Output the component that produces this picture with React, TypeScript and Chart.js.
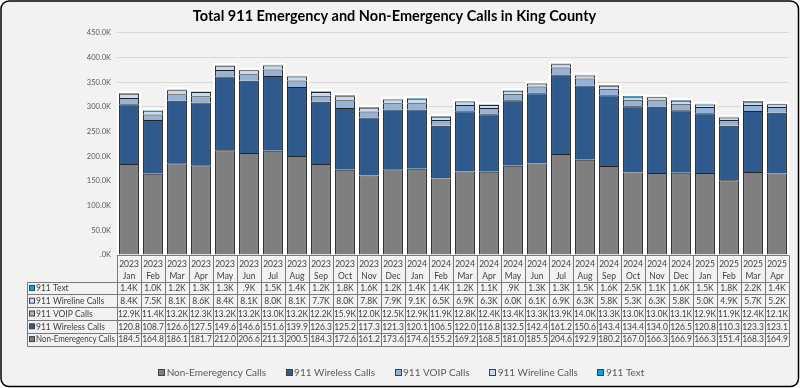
import React, { useEffect, useRef } from 'react';
import { Chart, registerables } from 'chart.js';

Chart.register(...registerables);

const years = ['2023','2023','2023','2023','2023','2023','2023','2023','2023','2023','2023','2023','2024','2024','2024','2024','2024','2024','2024','2024','2024','2024','2024','2024','2025','2025','2025','2025'];
const months = ['Jan','Feb','Mar','Apr','May','Jun','Jul','Aug','Sep','Oct','Nov','Dec','Jan','Feb','Mar','Apr','May','Jun','Jul','Aug','Sep','Oct','Nov','Dec','Jan','Feb','Mar','Apr'];

// values in thousands of calls
const nonEmergency = [184.5,164.8,186.1,181.7,212.0,206.6,211.3,200.5,184.3,172.6,161.2,173.6,174.6,155.2,169.2,168.5,181.0,185.5,204.6,192.9,180.2,167.0,166.3,166.9,166.3,151.4,168.3,164.9];
const wireless = [120.8,108.7,126.6,127.5,149.6,146.6,151.6,139.9,126.3,125.2,117.3,121.3,120.1,106.5,122.0,116.8,132.5,142.4,161.2,150.6,143.4,134.4,134.0,126.5,120.8,110.3,123.3,123.1];
const voip = [12.9,11.4,13.2,12.3,13.2,13.2,13.0,13.2,12.2,15.9,12.0,12.5,12.9,11.9,12.8,12.4,13.4,13.3,13.9,14.0,13.3,13.0,13.0,13.1,12.9,11.9,12.4,12.1];
const wireline = [8.4,7.5,8.1,8.6,8.4,8.1,8.0,8.1,7.7,8.0,7.8,7.9,9.1,6.5,6.9,6.3,6.0,6.1,6.9,6.3,5.8,5.3,6.3,5.8,5.0,4.9,5.7,5.2];
const text911 = [1.4,1.0,1.2,1.3,1.3,0.9,1.5,1.4,1.2,1.8,1.6,1.2,1.4,1.4,1.2,1.1,0.9,1.3,1.3,1.5,1.6,2.5,1.1,1.6,1.5,1.8,2.2,1.4];

const seriesNames = ['Non-Emeregency Calls','911 Wireless Calls','911 VOIP Calls','911 Wireline Calls','911 Text'];
const seriesColors = ['#7f7f7f','#2f5a8e','#95b3d7','#c9daf0','#0aa3e0'];
const seriesValues = [nonEmergency, wireless, voip, wireline, text911];
const seriesWithK = [false, false, true, true, true];
const tableOrder = [4, 3, 2, 1, 0];

const yMax = 450;
const yStep = 50;
const titleText = 'Total 911 Emergency and Non-Emergency Calls in King County';

const FONT = 'Lato, "Open Sans", sans-serif';

const fmtK = (v: number) => (v < 1 ? v.toFixed(1).replace(/^0/, '') : v.toFixed(1)) + 'K';
const fmtPlain = (v: number) => v.toFixed(1);

const backgroundPlugin = {
  id: 'bgBorder',
  beforeDraw(chart: any) {
    const ctx = chart.ctx;
    ctx.save();
    ctx.fillStyle = '#ffffff';
    ctx.fillRect(0, 0, chart.width, chart.height);
    ctx.beginPath();
    ctx.roundRect(1, 1, chart.width - 2.5, chart.height - 2.5, 8);
    ctx.fillStyle = '#f2f2f2';
    ctx.fill();
    ctx.lineWidth = 1.5;
    ctx.strokeStyle = '#000000';
    ctx.stroke();
    ctx.restore();
  },
};

const haloPlugin = {
  id: 'barHalo',
  beforeDatasetsDraw(chart: any) {
    const metas = chart.getSortedVisibleDatasetMetas();
    if (!metas.length) return;
    const ctx = chart.ctx;
    ctx.save();
    ctx.strokeStyle = '#ffffff';
    ctx.lineWidth = 4;
    const n = metas[0].data.length;
    for (let i = 0; i < n; i++) {
      const b = metas[0].data[i].getProps(['x', 'width', 'base'], true);
      const t = metas[metas.length - 1].data[i].getProps(['y'], true);
      ctx.strokeRect(b.x - b.width / 2, t.y, b.width, b.base - t.y);
    }
    ctx.restore();
  },
};

const tablePlugin = {
  id: 'dataTable',
  afterDraw(chart: any) {
    const ctx = chart.ctx;
    const area = chart.chartArea;
    const xs = chart.scales.x;
    const n = months.length;
    const colW = (area.right - area.left) / n;
    const top = Math.round(area.bottom) + 0.5;
    const headerBottom = top + 26;
    const rowH = 12.8;
    const labelLeft = 27.5;
    const bottom = headerBottom + rowH * 5;

    ctx.save();
    ctx.strokeStyle = '#7a7a7a';
    ctx.lineWidth = 1;
    ctx.beginPath();
    ctx.moveTo(area.left, top);
    ctx.lineTo(area.right, top);
    for (let r = 0; r <= 5; r++) {
      const y = Math.round(headerBottom + r * rowH) + 0.5;
      ctx.moveTo(labelLeft, y);
      ctx.lineTo(area.right, y);
    }
    for (let i = 0; i <= n; i++) {
      const x = Math.round(area.left + i * colW) + 0.5;
      ctx.moveTo(x, top);
      ctx.lineTo(x, Math.round(bottom) + 0.5);
    }
    ctx.moveTo(labelLeft, Math.round(headerBottom) + 0.5);
    ctx.lineTo(labelLeft, Math.round(bottom) + 0.5);
    ctx.stroke();

    ctx.textBaseline = 'middle';
    for (let r = 0; r < 5; r++) {
      const s = tableOrder[r];
      const yc = headerBottom + r * rowH + rowH / 2 + 0.5;
      ctx.fillStyle = seriesColors[s];
      ctx.fillRect(29.5, yc - 3, 5, 5);
      ctx.strokeStyle = '#404040';
      ctx.strokeRect(29.5, yc - 3, 5, 5);
      ctx.fillStyle = '#404040';
      ctx.font = `8.5px ${FONT}`;
      ctx.textAlign = 'left';
      ctx.fillText(seriesNames[s], 36, yc, 79);
      ctx.textAlign = 'center';
      const vals = seriesValues[s];
      for (let i = 0; i < n; i++) {
        const x = xs.getPixelForValue(i);
        ctx.fillText(seriesWithK[s] ? fmtK(vals[i]) : fmtPlain(vals[i]), x, yc, colW - 2);
      }
    }

    // legend
    ctx.font = `10px ${FONT}`;
    const gap = 20;
    const widths = seriesNames.map((t) => 8 + ctx.measureText(t).width);
    const total = widths.reduce((a, b) => a + b, 0) + gap * (widths.length - 1);
    let lx = 401 - total / 2;
    const ly = 373;
    ctx.textAlign = 'left';
    for (let s = 0; s < seriesNames.length; s++) {
      ctx.fillStyle = seriesColors[s];
      ctx.fillRect(Math.round(lx) + 0.5, ly - 3.5, 6, 6);
      ctx.strokeStyle = '#404040';
      ctx.strokeRect(Math.round(lx) + 0.5, ly - 3.5, 6, 6);
      ctx.fillStyle = '#595959';
      ctx.fillText(seriesNames[s], lx + 8.5, ly);
      lx += widths[s] + gap;
    }
    ctx.restore();
  },
};

export default function App() {
  const canvasRef = useRef<HTMLCanvasElement | null>(null);

  useEffect(() => {
    document.body.style.margin = '0';
    const canvas = canvasRef.current;
    if (!canvas) return;
    const chart = new Chart(canvas, {
      type: 'bar',
      data: {
        labels: years.map((y, i) => [y, months[i]]),
        datasets: seriesNames.map((name, s) => ({
          label: name,
          data: seriesValues[s],
          backgroundColor: seriesColors[s],
          borderColor: '#222222',
          borderWidth: 1,
          borderSkipped: 'start',
          barPercentage: 0.83,
          categoryPercentage: 1,
        })),
      },
      options: {
        responsive: false,
        animation: false,
        devicePixelRatio: 1,
        layout: { padding: { left: 0, right: 11, top: 0, bottom: 0 } },
        plugins: {
          legend: { display: false },
          tooltip: { enabled: false },
          title: {
            display: true,
            text: titleText,
            color: '#000000',
            font: { family: FONT, size: 14.5, weight: 'bold' },
            padding: { top: 7.5, bottom: 8 },
          },
        },
        scales: {
          x: {
            stacked: true,
            grid: { display: false, drawTicks: false },
            border: { display: false },
            ticks: {
              autoSkip: false,
              maxRotation: 0,
              minRotation: 0,
              padding: 3,
              color: '#404040',
              font: { family: FONT, size: 8.5, lineHeight: 1.4 },
            },
            afterFit: (scale: any) => {
              scale.height = 133;
            },
          },
          y: {
            stacked: true,
            min: 0,
            max: yMax,
            grid: { color: '#d9d9d9', drawTicks: false },
            border: { display: false },
            ticks: {
              stepSize: yStep,
              padding: 6,
              color: '#595959',
              font: { family: FONT, size: 7.5 },
              callback: (v: any) => (Number(v) === 0 ? '.0K' : Number(v).toFixed(1) + 'K'),
            },
            afterFit: (scale: any) => {
              scale.width = 117;
            },
          },
        },
      },
      plugins: [backgroundPlugin, haloPlugin, tablePlugin],
    });
    return () => chart.destroy();
  }, []);

  return (
    <div style={{ width: 800, height: 388 }}>
      <canvas ref={canvasRef} width={800} height={388} style={{ display: 'block' }} />
    </div>
  );
}
